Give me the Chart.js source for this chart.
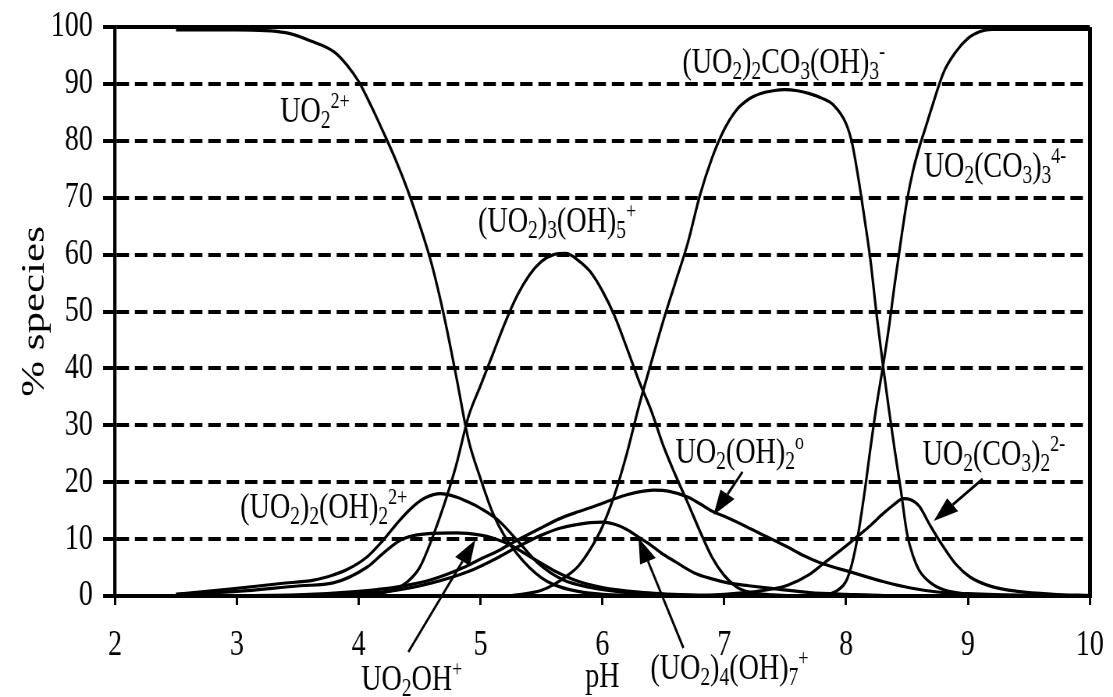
<!DOCTYPE html>
<html>
<head>
<meta charset="utf-8">
<title>Uranyl speciation vs pH</title>
<script src="https://cdn.jsdelivr.net/npm/chart.js@4.4.0/dist/chart.umd.min.js"></script>
<style>
  html, body { margin: 0; padding: 0; background: #fff; overflow: hidden; }
  #wrap { position: relative; height: 697px; transform-origin: 0 0; }
</style>
</head>
<body>
<div id="wrap"><canvas id="speciation"></canvas></div>
<script>
// glyphs in this plot are tall and narrow: render wide, then squeeze horizontally
const SX = 0.78;
const FAMILY = '"Liberation Serif", "Times New Roman", serif';

// pH, % of total uranium
const uo2 = [[2.5,99.5],[3.0,99.5],[3.4,99.0],[3.6,97.6],[3.8,95.6],[3.9,93.4],[4.0,90.4],[4.1,86.2],[4.2,81.6],[4.3,76.8],[4.4,71.4],[4.5,65.2],[4.6,58.2],[4.7,49.2],[4.8,38.6],[4.9,27.5],[5.0,20.6],[5.1,14.6],[5.2,10.4],[5.3,7.4],[5.4,5.0],[5.5,3.2],[5.6,2.0],[5.8,0.8],[6.0,0.3],[6.5,0.1],[7.0,0],[10,0]];
const uo2oh = [[2.5,0.3],[3.0,0.8],[3.52,1.8],[3.79,2.3],[4.07,5.1],[4.2,7.5],[4.34,9.8],[4.45,10.6],[4.6,11.0],[4.8,11.1],[5.0,10.7],[5.1,10.2],[5.24,9.0],[5.4,7.0],[5.6,4.5],[5.8,2.6],[6.0,1.5],[6.3,0.7],[6.7,0.2],[7.2,0],[10,0]];
const uo2_2oh2 = [[2.5,0.3],[2.94,1.2],[3.36,2.2],[3.63,2.8],[3.79,3.7],[3.9,4.6],[4.07,6.9],[4.2,9.8],[4.34,13.4],[4.45,15.8],[4.55,17.3],[4.67,18.0],[4.8,17.4],[4.9,16.5],[5.0,15.4],[5.14,13.4],[5.3,9.8],[5.47,5.8],[5.68,2.8],[5.9,1.5],[6.2,0.6],[6.6,0.2],[7.0,0],[10,0]];
const uo2_3oh5 = [[2.5,0],[3.8,0],[4.1,0.3],[4.3,1.2],[4.4,2.5],[4.5,5.0],[4.6,10.0],[4.7,16.0],[4.8,23.0],[4.9,31.5],[5.0,37.0],[5.1,42.5],[5.2,48.0],[5.3,52.8],[5.4,56.4],[5.5,58.8],[5.6,60.0],[5.7,60.2],[5.8,59.0],[5.9,57.0],[6.0,53.6],[6.1,49.2],[6.2,43.6],[6.3,37.8],[6.4,32.6],[6.5,26.4],[6.6,21.2],[6.7,16.4],[6.8,11.4],[6.9,6.8],[7.0,3.6],[7.1,1.6],[7.2,0.7],[7.4,0.2],[7.8,0],[10,0]];
const uo2_4oh7 = [[2.5,0],[3.8,0.2],[4.3,1.0],[4.6,2.3],[4.9,4.3],[5.1,6.3],[5.3,8.6],[5.5,10.7],[5.65,11.9],[5.8,12.6],[5.9,12.9],[6.0,13.0],[6.1,12.6],[6.2,11.7],[6.3,10.3],[6.4,8.9],[6.48,7.6],[6.6,6.0],[6.75,4.1],[6.9,3.0],[7.03,2.3],[7.2,1.8],[7.44,1.2],[7.7,0.6],[8.0,0.3],[8.5,0],[10,0]];
const uo2oh2 = [[2.5,0],[3.5,0.2],[4.0,0.8],[4.32,1.6],[4.6,2.9],[4.86,5.0],[5.0,6.5],[5.15,8.0],[5.3,9.8],[5.5,12.0],[5.65,13.6],[5.8,14.8],[5.9,15.5],[6.0,16.3],[6.1,17.1],[6.2,17.8],[6.3,18.3],[6.42,18.6],[6.55,18.4],[6.7,17.4],[6.8,16.2],[6.91,14.8],[7.0,14.0],[7.19,12.1],[7.35,10.4],[7.52,8.6],[7.65,7.1],[7.79,5.8],[8.04,4.2],[8.31,2.5],[8.53,1.4],[8.75,0.7],[9.0,0.4],[9.5,0.1],[10,0]];
const uo2_2co3oh3 = [[2.5,0],[5.2,0],[5.4,0.5],[5.5,1.0],[5.6,2.0],[5.7,3.4],[5.8,5.2],[5.9,8.2],[6.0,12.2],[6.1,17.8],[6.2,25.0],[6.3,33.4],[6.4,41.0],[6.5,48.4],[6.6,55.2],[6.7,62.0],[6.8,70.4],[6.9,77.0],[7.0,82.0],[7.1,85.4],[7.2,87.3],[7.3,88.3],[7.4,88.8],[7.5,89.0],[7.6,88.8],[7.7,88.3],[7.8,87.5],[7.9,86.2],[8.0,83.0],[8.05,79.5],[8.1,73.5],[8.15,66.5],[8.2,59.0],[8.25,49.5],[8.3,41.0],[8.35,33.0],[8.4,25.5],[8.45,18.5],[8.5,11.0],[8.55,7.0],[8.6,4.5],[8.7,2.2],[8.8,1.1],[9.0,0.3],[9.3,0],[10,0]];
const uo2co3_2 = [[2.5,0],[6.6,0],[7.0,0.3],[7.3,0.9],[7.52,1.9],[7.7,3.8],[7.82,5.8],[8.0,8.8],[8.1,10.6],[8.2,12.4],[8.31,14.6],[8.4,16.2],[8.47,17.1],[8.53,16.9],[8.6,15.8],[8.69,12.4],[8.8,8.6],[8.9,5.6],[9.02,3.3],[9.19,1.7],[9.41,0.8],[9.7,0.3],[10,0.1]];
const uo2co3_3 = [[2.5,0],[7.7,0],[7.85,0.3],[7.93,1.0],[8.0,2.6],[8.05,5.8],[8.1,11.0],[8.15,18.0],[8.2,26.0],[8.25,33.5],[8.3,40.0],[8.35,47.0],[8.4,55.0],[8.45,62.5],[8.5,69.5],[8.55,74.8],[8.6,78.8],[8.65,82.2],[8.7,85.6],[8.8,92.0],[8.9,95.6],[9.0,98.0],[9.1,99.2],[9.2,99.6],[10,99.6]];

const phTicks = [2, 3, 4, 5, 6, 7, 8, 9, 10];
const pctTicks = [0, 10, 20, 30, 40, 50, 60, 70, 80, 90, 100];

const series = [uo2, uo2oh, uo2_2oh2, uo2_3oh5, uo2_4oh7, uo2oh2, uo2_2co3oh3, uo2co3_2, uo2co3_3];

// species names: [text, n = normal | b = subscript | p = superscript], anchored at (pH, %)
const names = [
  { at: [3.355, 83.3], parts: [['UO','n'],['2','b'],['2+','p']] },
  { at: [4.98, 64.0], parts: [['(UO','n'],['2','b'],[')','n'],['3','b'],['(OH)','n'],['5','b'],['+','p']] },
  { at: [6.657, 91.9], parts: [['(UO','n'],['2','b'],[')','n'],['2','b'],['CO','n'],['3','b'],['(OH)','n'],['3','b'],['-','p']] },
  { at: [8.637, 73.6], parts: [['UO','n'],['2','b'],['(CO','n'],['3','b'],[')','n'],['3','b'],['4-','p']] },
  { at: [6.6, 23.4], parts: [['UO','n'],['2','b'],['(OH)','n'],['2','b'],['o','p']] },
  { at: [8.628, 23.0], parts: [['UO','n'],['2','b'],['(CO','n'],['3','b'],[')','n'],['2','b'],['2-','p']] },
  { at: [3.027, 13.7], parts: [['(UO','n'],['2','b'],[')','n'],['2','b'],['(OH)','n'],['2','b'],['2+','p']] },
  { at: [4.02, -16.5], parts: [['UO','n'],['2','b'],['OH','n'],['+','p']] },
  { at: [6.394, -14.6], parts: [['(UO','n'],['2','b'],[')','n'],['4','b'],['(OH)','n'],['7','b'],['+','p']] }
];

// pointer arrows from a name to its curve: [pH, %] tail -> head
const pointers = [
  { from: [4.407, -9.84], to: [4.957, 9.84] },
  { from: [6.665, -9.14], to: [6.296, 10.19] },
  { from: [7.15, 21.8], to: [6.912, 14.24] },
  { from: [9.121, 20.56], to: [8.719, 13.18] }
];

const W = 1113 / SX;
const wrap = document.getElementById('wrap');
wrap.style.width = W + 'px';
wrap.style.transform = 'scaleX(' + SX + ')';

const textStyle = {
  n: { size: 36, dy: 0 },
  b: { size: 25, dy: 6 },
  p: { size: 23, dy: -14 }
};

const annotate = {
  id: 'annotate',
  afterDraw(chart) {
    const { ctx, scales: { x, y } } = chart;
    ctx.save();
    ctx.fillStyle = '#000';
    ctx.strokeStyle = '#000';
    ctx.textBaseline = 'alphabetic';
    ctx.textAlign = 'left';
    names.forEach(n => {
      let px = x.getPixelForValue(n.at[0]);
      const py = y.getPixelForValue(n.at[1]);
      n.parts.forEach(([t, k]) => {
        ctx.font = textStyle[k].size + 'px ' + FAMILY;
        ctx.fillText(t, px, py + textStyle[k].dy);
        px += ctx.measureText(t).width;
      });
    });

    // build arrows in on-screen space so the heads keep their shape after squeezing
    ctx.lineWidth = 2.8;
    pointers.forEach(p => {
      const ax = x.getPixelForValue(p.from[0]) * SX, ay = y.getPixelForValue(p.from[1]);
      const bx = x.getPixelForValue(p.to[0]) * SX, by = y.getPixelForValue(p.to[1]);
      const a = Math.atan2(by - ay, bx - ax);
      const len = 25, half = 8.5;
      const cx = bx - len * Math.cos(a), cy = by - len * Math.sin(a);
      ctx.beginPath();
      ctx.moveTo(ax / SX, ay);
      ctx.lineTo(cx / SX, cy);
      ctx.stroke();
      ctx.beginPath();
      ctx.moveTo(bx / SX, by);
      ctx.lineTo((cx - half * Math.sin(a)) / SX, cy + half * Math.cos(a));
      ctx.lineTo((cx + half * Math.sin(a)) / SX, cy - half * Math.cos(a));
      ctx.closePath();
      ctx.fill();
    });
    ctx.restore();
  }
};

const plotLeft = 115 / SX;
const plotRight = 1089 / SX;

new Chart(document.getElementById('speciation'), {
  type: 'line',
  data: {
    datasets: series.map(s => ({
      data: s.map(p => ({ x: p[0], y: p[1] })),
      borderColor: '#000',
      borderWidth: 3.2,
      pointRadius: 0,
      tension: 0.4,
      cubicInterpolationMode: 'monotone',
      fill: false
    }))
  },
  options: {
    responsive: true,
    maintainAspectRatio: false,
    animation: false,
    events: [],
    layout: { padding: { top: 27, right: W - plotRight, bottom: 0, left: 0 } },
    plugins: { legend: { display: false }, tooltip: { enabled: false } },
    scales: {
      x: {
        type: 'linear',
        min: 2,
        max: 10,
        afterBuildTicks: s => { s.ticks = phTicks.map(v => ({ value: v })); },
        afterFit: s => { s.height = 101; s.paddingLeft = 0; s.paddingRight = 0; },
        ticks: { color: '#000', padding: 19, maxRotation: 0, font: { family: FAMILY, size: 36 } },
        grid: {
          color: c => (c.tick && c.tick.value === 10 ? '#000' : 'rgba(0,0,0,0)'),
          lineWidth: 5,
          tickColor: '#000',
          tickWidth: 3,
          tickLength: 9
        },
        border: { color: '#000', width: 4 },
        title: { display: true, text: 'pH', color: '#000', font: { family: FAMILY, size: 36, lineHeight: 1 }, padding: { top: 0, bottom: 1 } }
      },
      y: {
        min: 0,
        max: 100,
        afterBuildTicks: s => { s.ticks = pctTicks.map(v => ({ value: v })); },
        afterFit: s => { s.width = plotLeft; s.paddingTop = 0; s.paddingBottom = 0; },
        ticks: { color: '#000', padding: 13, font: { family: FAMILY, size: 36 } },
        grid: {
          color: '#000',
          lineWidth: 4,
          tickColor: '#000',
          tickWidth: 4,
          tickLength: 15.4
        },
        border: {
          color: '#000',
          width: 4.3,
          dash: c => (c.tick && c.tick.value === 100 ? [] : [16, 7.5])
        },
        title: { display: true, text: '% species', color: '#000', font: { family: FAMILY, size: 43, lineHeight: 1.2 }, padding: { top: 19, bottom: 0 } }
      }
    }
  },
  plugins: [annotate]
});
</script>
</body>
</html>
